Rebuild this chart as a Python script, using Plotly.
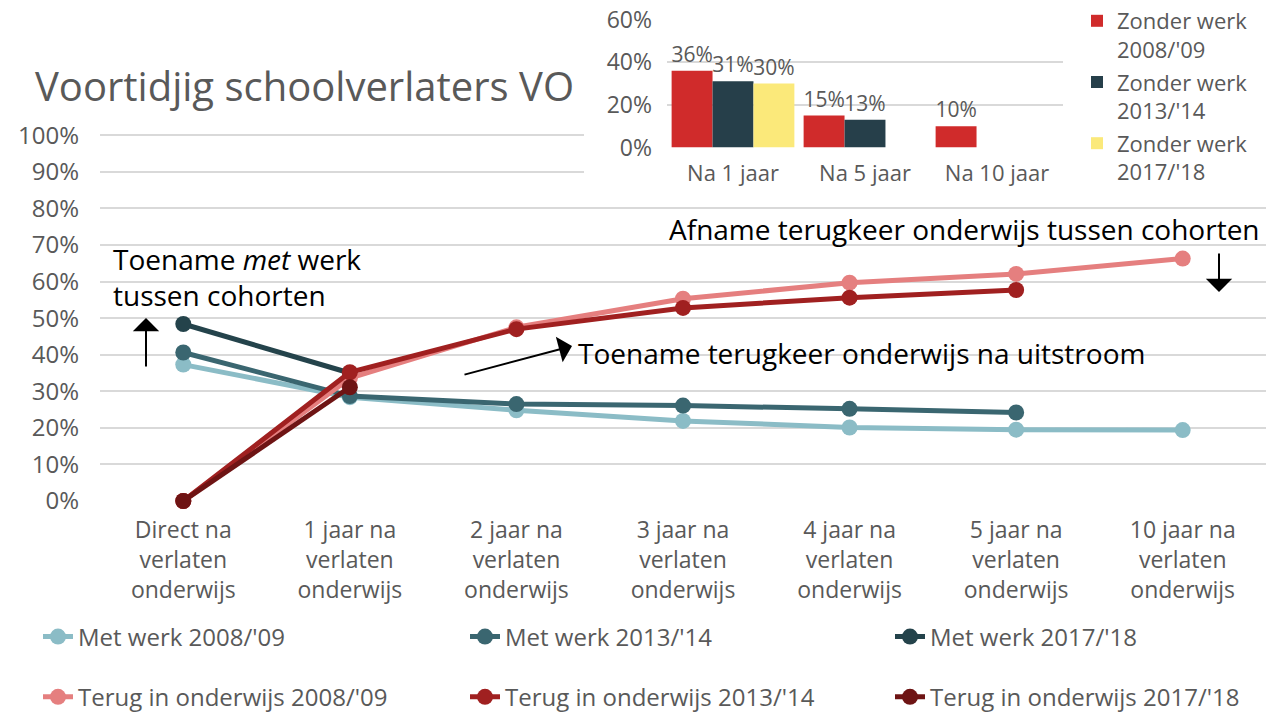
import plotly.graph_objects as go

W, H = 1269, 714
FONT = "Open Sans"
GRAY = "#595959"
GRID = "#D9D9D9"

categories = ["Direct na<br>verlaten<br>onderwijs", "1 jaar na<br>verlaten<br>onderwijs",
              "2 jaar na<br>verlaten<br>onderwijs", "3 jaar na<br>verlaten<br>onderwijs",
              "4 jaar na<br>verlaten<br>onderwijs", "5 jaar na<br>verlaten<br>onderwijs",
              "10 jaar na<br>verlaten<br>onderwijs"]

met_werk_0809 = [0.373, 0.284, 0.248, 0.219, 0.201, 0.195, 0.194]
met_werk_1314 = [0.406, 0.287, 0.265, 0.261, 0.252, 0.242, None]
met_werk_1718 = [0.484, 0.350, None, None, None, None, None]
terug_0809 = [0.0, 0.336, 0.475, 0.553, 0.597, 0.621, 0.663]
terug_1314 = [0.0, 0.352, 0.470, 0.528, 0.556, 0.577, None]
terug_1718 = [0.0, 0.311, None, None, None, None, None]

inset_categories = ["Na 1 jaar", "Na 5 jaar", "Na 10 jaar"]
zonder_0809 = [0.36, 0.15, 0.10]
zonder_1314 = [0.31, 0.13, None]
zonder_1718 = [0.30, None, None]

# (name, values, colour, legend column)
line_series = [
    ("Met werk 2008/'09", met_werk_0809, "#8BBCC6", "legend"),
    ("Met werk 2013/'14", met_werk_1314, "#3A6670", "legend2"),
    ("Met werk 2017/'18", met_werk_1718, "#24434B", "legend3"),
    ("Terug in onderwijs 2008/'09", terug_0809, "#E57F7F", "legend"),
    ("Terug in onderwijs 2013/'14", terug_1314, "#A02020", "legend2"),
    ("Terug in onderwijs 2017/'18", terug_1718, "#6E1414", "legend3"),
]
bar_series = [
    ("Zonder werk<br>2008/'09", zonder_0809, "#D02B2B"),
    ("Zonder werk<br>2013/'14", zonder_1314, "#263F4A"),
    ("Zonder werk<br>2017/'18", zonder_1718, "#FBE97A"),
]

# main plot geometry (pixels)
PX_L, PX_R = 100, 1266
Y0_PX, Y100_PX = 501, 135.3
YMAX = 1.02
TOP_PX = Y0_PX - YMAX * (Y0_PX - Y100_PX)


def px_x(p):
    return p / W


def px_y(p):
    return (H - p) / H


fig = go.Figure()

# white panel behind the inset (hides the top main gridlines there), on hidden overlay axes
panel_x0 = (584 - PX_L) / (PX_R - PX_L)
panel_y0 = (Y0_PX - 195) / (Y0_PX - TOP_PX)
fig.add_trace(go.Scatter(x=[panel_x0, 1.0, 1.0, panel_x0], y=[panel_y0, panel_y0, 1.0, 1.0],
                         fill="toself", fillcolor="white", mode="none",
                         xaxis="x3", yaxis="y3", showlegend=False, hoverinfo="skip"))

for i, (name, vals, col, lg) in enumerate(line_series):
    fig.add_trace(go.Scatter(x=categories, y=vals, name=name, mode="lines+markers",
                             line=dict(color=col, width=5), marker=dict(color=col, size=16),
                             xaxis="x", yaxis="y", legend=lg, legendgroup=f"l{i}",
                             connectgaps=False, cliponaxis=False))

for i, (name, vals, col) in enumerate(bar_series):
    fig.add_trace(go.Bar(x=inset_categories, y=vals, name=name, marker=dict(color=col, line=dict(width=0)),
                         text=[f"{v*100:.0f}%" if v is not None else "" for v in vals],
                         textposition="outside", constraintext="none", cliponaxis=False,
                         textfont=dict(size=21, color=GRAY, family=FONT),
                         xaxis="x2", yaxis="y2", legend="legend4", legendgroup=f"z{i}"))

col_legend = dict(orientation="v", y=px_y(667), xanchor="left", yanchor="middle",
                  font=dict(size=24, color=GRAY), bgcolor="rgba(0,0,0,0)", tracegroupgap=26)

fig.update_layout(
    width=W, height=H, margin=dict(l=0, r=0, t=0, b=0, autoexpand=False),
    paper_bgcolor="white", plot_bgcolor="white",
    font=dict(family=FONT, color=GRAY, size=20),
    barmode="group", bargap=0.07, bargroupgap=0,
    xaxis=dict(domain=[px_x(PX_L), px_x(PX_R)], range=[-0.5, 6.5], showgrid=False, showline=False,
               ticks="", tickfont=dict(size=23, color=GRAY), zeroline=False, ticklabelstandoff=13,
               automargin=False),
    yaxis=dict(domain=[px_y(Y0_PX), px_y(TOP_PX)], range=[0, YMAX], tickvals=[i / 10 for i in range(11)],
               tickformat=".0%", showgrid=True, gridcolor=GRID, gridwidth=2, zeroline=False,
               showline=False, ticks="", ticklabelstandoff=20, tickfont=dict(size=24, color=GRAY),
               automargin=False),
    xaxis3=dict(overlaying="x", range=[0, 1], visible=False),
    yaxis3=dict(overlaying="y", range=[0, 1], visible=False),
    xaxis2=dict(domain=[px_x(667), px_x(1063)], anchor="y2", showgrid=False, showline=False,
                ticks="", tickfont=dict(size=22, color=GRAY), zeroline=False, ticklabelstandoff=10,
                automargin=False),
    yaxis2=dict(domain=[px_y(147.5), px_y(19.5)], anchor="x2", range=[0, 0.6], dtick=0.2,
                tickformat=".0%", showgrid=True, gridcolor=GRID, gridwidth=2, zeroline=False,
                ticks="", ticklabelstandoff=14, tickfont=dict(size=23, color=GRAY),
                automargin=False),
    legend=dict(col_legend, x=px_x(38)),
    legend2=dict(col_legend, x=px_x(465)),
    legend3=dict(col_legend, x=px_x(890)),
    legend4=dict(orientation="v", x=px_x(1077), y=1, xanchor="left", yanchor="top",
                 font=dict(size=22, color=GRAY), valign="top", itemwidth=30,
                 bgcolor="rgba(0,0,0,0)", tracegroupgap=1),
    showlegend=True,
)

annos = [
    dict(x=px_x(33), y=px_y(85), text="Voortidjig schoolverlaters VO", showarrow=False,
         xanchor="left", yanchor="middle", font=dict(size=40, color=GRAY)),
    dict(x=px_x(111), y=px_y(277), text="Toename <i>met</i> werk<br>tussen cohorten", showarrow=False,
         xanchor="left", yanchor="middle", align="left", font=dict(size=28, color="black")),
    dict(x=px_x(576), y=px_y(353), text="Toename terugkeer onderwijs na uitstroom", showarrow=False,
         xanchor="left", yanchor="middle", font=dict(size=28, color="black")),
    dict(x=px_x(667), y=px_y(229), text="Afname terugkeer onderwijs tussen cohorten", showarrow=False,
         xanchor="left", yanchor="middle", font=dict(size=28, color="black")),
    dict(x=px_x(146), y=px_y(318), ax=0, ay=50, text="", showarrow=True, arrowhead=1,
         arrowwidth=2, arrowsize=2.2, arrowcolor="black"),
    dict(x=px_x(572), y=px_y(346), ax=-109, ay=29, text="", showarrow=True, arrowhead=1,
         arrowwidth=2, arrowsize=2.2, arrowcolor="black"),
    dict(x=px_x(1219), y=px_y(292), ax=0, ay=-40, text="", showarrow=True, arrowhead=1,
         arrowwidth=2, arrowsize=2.2, arrowcolor="black"),
]
for a in annos:
    a.setdefault("xref", "paper")
    a.setdefault("yref", "paper")
    fig.add_annotation(**a)

# the page's default 8px body margin would shift the figure; remove it
fig.write_html("out.html", config={"displayModeBar": False},
               post_script="document.body.style.margin='0px';document.body.style.overflow='hidden';")
